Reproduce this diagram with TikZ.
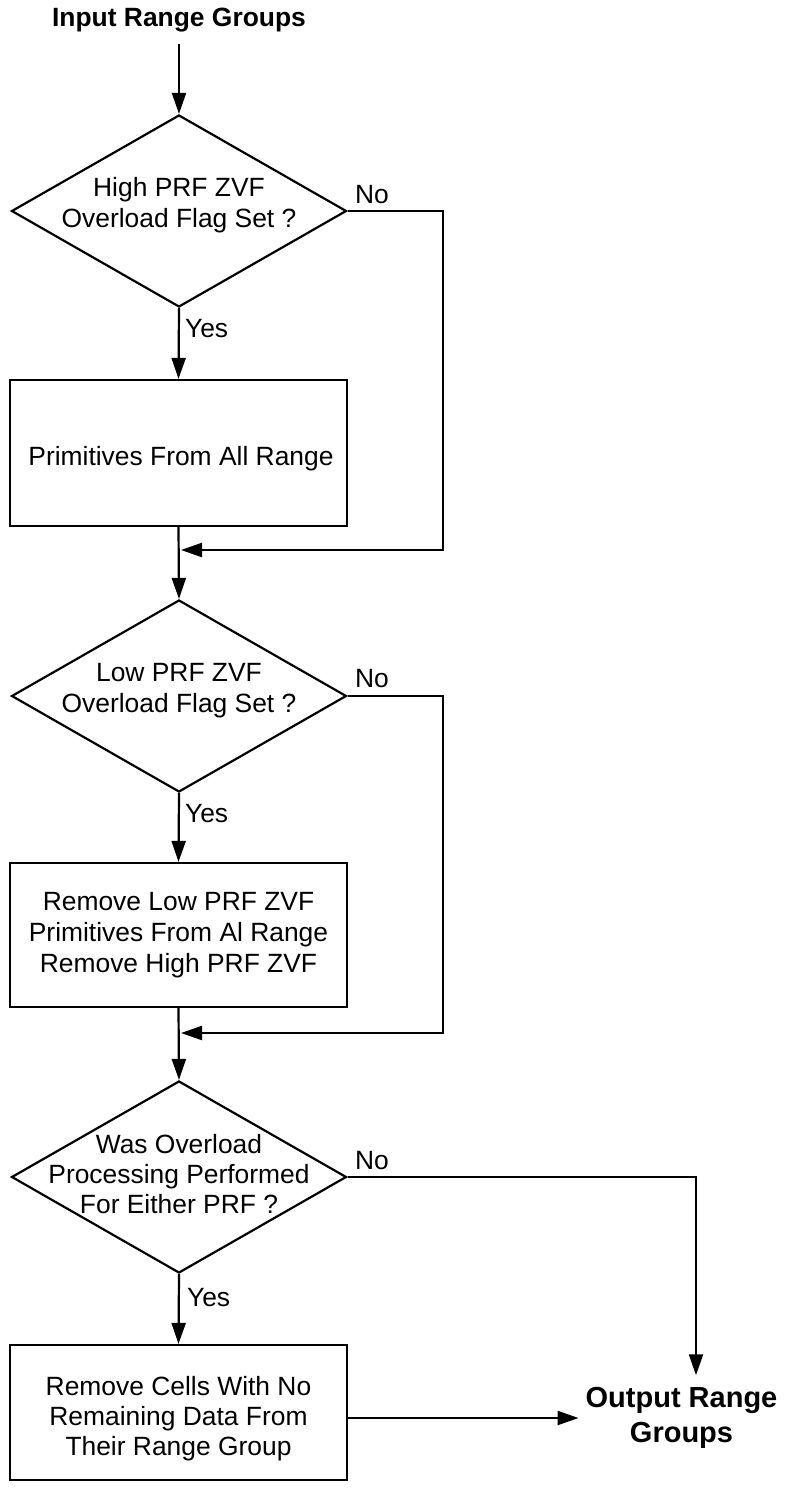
\documentclass[tikz,border=0pt]{standalone}
\usepackage{fontspec}
\setmainfont{Liberation Sans}
\usetikzlibrary{shapes.geometric,arrows.meta}
\begin{document}
\begin{tikzpicture}[x=1pt,y=-1pt,
  line width=2.2pt,
  base/.style={font=\fontsize{26.4}{31}\selectfont},
  boldbase/.style={font=\fontsize{26.4}{31}\selectfont\bfseries},
  dia/.style={draw,diamond,minimum width=335pt,minimum height=192pt,inner sep=0pt},
  proc/.style={draw,rectangle,minimum width=337pt,inner sep=0pt,base,align=center},
  txt/.style={base,align=center,inner sep=0pt},
  lbl/.style={base,inner sep=0pt},
  arr/.style={-{Triangle[length=21pt,width=14pt]}},
]
\useasboundingbox (0,0) rectangle (786,1489);

\node[txt,boldbase] (in) at (179,20) {Input Range Groups};

\node[dia] (d1) at (179,211) {};
\node[txt] (d1t) at (179,205) {High PRF ZVF\\Overload Flag Set ?};
\node[proc,minimum height=146pt] (p1) at (178.5,453) {};
\node[txt] (p1t) at (181,459) {Primitives From All Range};

\node[dia] (d2) at (179,696) {};
\node[txt] (d2t) at (179,690.5) {Low PRF ZVF\\Overload Flag Set ?};
\node[proc,minimum height=144pt] (p2) at (178.5,935) {Remove Low PRF ZVF\\Primitives From Al Range\\Remove High PRF ZVF};

\node[dia] (d3) at (179,1177) {};
\node[txt,font=\fontsize{26.4}{30}\selectfont] (d3t) at (179,1174) {Was Overload\\Processing Performed\\For Either PRF ?};
\node[proc,minimum height=135pt] (p3) at (178.5,1412.5) {};
\node[txt,font=\fontsize{26.4}{30}\selectfont] (p3t) at (178.5,1419) {Remove Cells With No\\Remaining Data From\\Their Range Group};

\node[txt,font=\fontsize{29}{35}\selectfont\bfseries] (out) at (681.5,1418) {Output Range\\Groups};

% labels
\node[lbl] (n1) at (372,195) {No};
\node[lbl] (n2) at (372,679) {No};
\node[lbl] (n3) at (372,1161) {No};
\node[lbl,anchor=west] (y1) at (184,329) {Yes};
\node[lbl,anchor=west] (y2) at (184,814) {Yes};
\node[lbl,anchor=west] (y3) at (186,1298) {Yes};

% coordinates for loops
\coordinate (r1) at (443,211);
\coordinate (j1) at (181,550);
\coordinate (r2) at (443,696);
\coordinate (j2) at (181,1033);

% connectors
\draw[arr,shorten <=11pt] (in.south) -- (d1.north);
\draw[arr] (d1.south) -- (p1.north);
\draw[arr] (p1.south) -- (d2.north);
\draw[arr] (d1.east) -- (r1) |- (j1);
\draw[arr] (d2.south) -- (p2.north);
\draw[arr] (p2.south) -- (d3.north);
\draw[arr] (d2.east) -- (r2) |- (j2);
\draw[arr] (d3.south) -- (p3.north);
\draw[arr] (d3.east) -| ([xshift=14.5pt,yshift=11pt]out.north);
\draw[arr,shorten >=6pt] (p3.east |- out.west) -- (out.west);
\end{tikzpicture}
\end{document}
